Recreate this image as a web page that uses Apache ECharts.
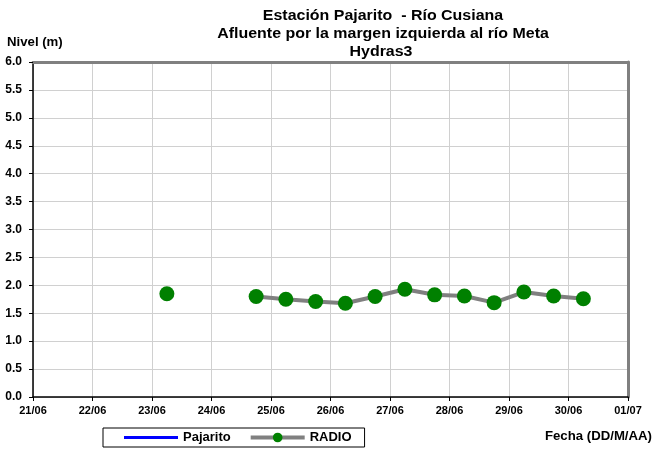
<!DOCTYPE html>
<html><head><meta charset="utf-8">
<script src="https://cdn.jsdelivr.net/npm/echarts@6/dist/echarts.min.js"></script>
<style>html,body{margin:0;padding:0;background:#fff}#c{width:653px;height:450px}</style>
</head><body><div id="c"></div>
<script>
const titleLines = ['Estación Pajarito  - Río Cusiana', 'Afluente por la margen izquierda al río Meta', 'Hydras3'];
const tickLabels = ['21/06','22/06','23/06','24/06','25/06','26/06','27/06','28/06','29/06','30/06','01/07'];
const startDate = '2020-06-21T00:00';
const radioTimes = ['2020-06-23T06:00','2020-06-23T18:00','2020-06-24T06:00','2020-06-24T18:00','2020-06-25T06:00','2020-06-25T18:00','2020-06-26T06:00','2020-06-26T18:00','2020-06-27T06:00','2020-06-27T18:00','2020-06-28T06:00','2020-06-28T18:00','2020-06-29T06:00','2020-06-29T18:00','2020-06-30T06:00'];
const radioValues = [1.85, null, null, 1.80, 1.75, 1.71, 1.68, 1.80, 1.93, 1.83, 1.81, 1.69, 1.88, 1.81, 1.76];
const pajaritoValues = [];
const yTicks = [0,0.5,1,1.5,2,2.5,3,3.5,4,4.5,5,5.5,6];

const FONT = 'Liberation Sans, Arial, sans-serif';
const t0 = Date.parse(startDate);
const toDay = t => (Date.parse(t) - t0) / 86400000;
const radioData = radioTimes.map((t, i) => [toDay(t), radioValues[i] == null ? '-' : radioValues[i]]);
const xMin = 0, xMax = tickLabels.length - 1;
const yMin = yTicks[0], yMax = yTicks[yTicks.length - 1];

function txt(text, x, y, size, align, sx) {
  return {type: 'text', x: x, y: y, scaleX: sx, silent: true,
    style: {text: text, fill: '#000', font: 'bold ' + size + 'px ' + FONT, align: align, verticalAlign: 'middle'}};
}
const frameAxis = {
  axisLine: {show: true, onZero: false, lineStyle: {color: '#808080', width: 3}},
  axisTick: {show: false}, axisLabel: {show: false}, splitLine: {show: false}
};

const chart = echarts.init(document.getElementById('c'), null, {renderer: 'canvas'});
chart.setOption({
  animation: false,
  backgroundColor: '#fff',
  graphic: [
    txt(titleLines[0], 383, 16, 14, 'center', 1.14),
    txt(titleLines[1], 383, 34, 14, 'center', 1.14),
    txt(titleLines[2], 381, 52, 14, 'center', 1.14),
    txt('Nivel (m)', 7, 43, 12, 'left', 1.1),
    txt('Fecha (DD/M/AA)', 652, 437, 12, 'right', 1.1)
  ],
  grid: {left: 33, right: 25, top: 62, bottom: 53, containLabel: false},
  legend: {
    left: 103, top: 428, padding: [3, 13, 3, 21], itemWidth: 54, itemHeight: 12, itemGap: 18,
    borderColor: '#000', borderWidth: 1,
    textStyle: {fontFamily: FONT, fontWeight: 'bold', fontSize: 13, color: '#000'},
    data: [
      {name: 'Pajarito', icon: 'path://M0 0H54V3H0Z'},
      {name: 'RADIO', lineStyle: {width: 4}}
    ]
  },
  xAxis: [{
    type: 'value', min: xMin, max: xMax, interval: 1,
    axisLine: {onZero: false, lineStyle: {color: '#000', width: 1.5}},
    axisTick: {show: true, length: 4, lineStyle: {color: '#000'}},
    axisLabel: {margin: 8, fontFamily: FONT, fontWeight: 'bold', fontSize: 11, color: '#000',
      formatter: v => tickLabels[Math.round(v)]},
    splitLine: {show: true, lineStyle: {color: '#d0d0d0', width: 1}}
  }, Object.assign({type: 'value', position: 'top', min: xMin, max: xMax}, frameAxis)],
  yAxis: [{
    type: 'value', min: yMin, max: yMax, interval: 0.5,
    axisLine: {show: true, onZero: false, lineStyle: {color: '#000', width: 1.5}},
    axisTick: {show: true, length: 4, lineStyle: {color: '#000'}},
    axisLabel: {margin: 11, fontFamily: FONT, fontWeight: 'bold', fontSize: 12, color: '#000',
      formatter: v => v.toFixed(1)},
    splitLine: {show: true, lineStyle: {color: '#d0d0d0', width: 1}}
  }, Object.assign({type: 'value', position: 'right', min: yMin, max: yMax}, frameAxis)],
  series: [
    {name: 'Pajarito', type: 'line', data: pajaritoValues, symbol: 'none',
     lineStyle: {color: '#0000ff', width: 3}, itemStyle: {color: '#0000ff'}},
    {name: 'RADIO', type: 'line', data: radioData, symbol: 'circle', symbolSize: 15,
     connectNulls: false,
     lineStyle: {color: '#808080', width: 4}, itemStyle: {color: '#008000'}}
  ]
});
</script></body></html>
